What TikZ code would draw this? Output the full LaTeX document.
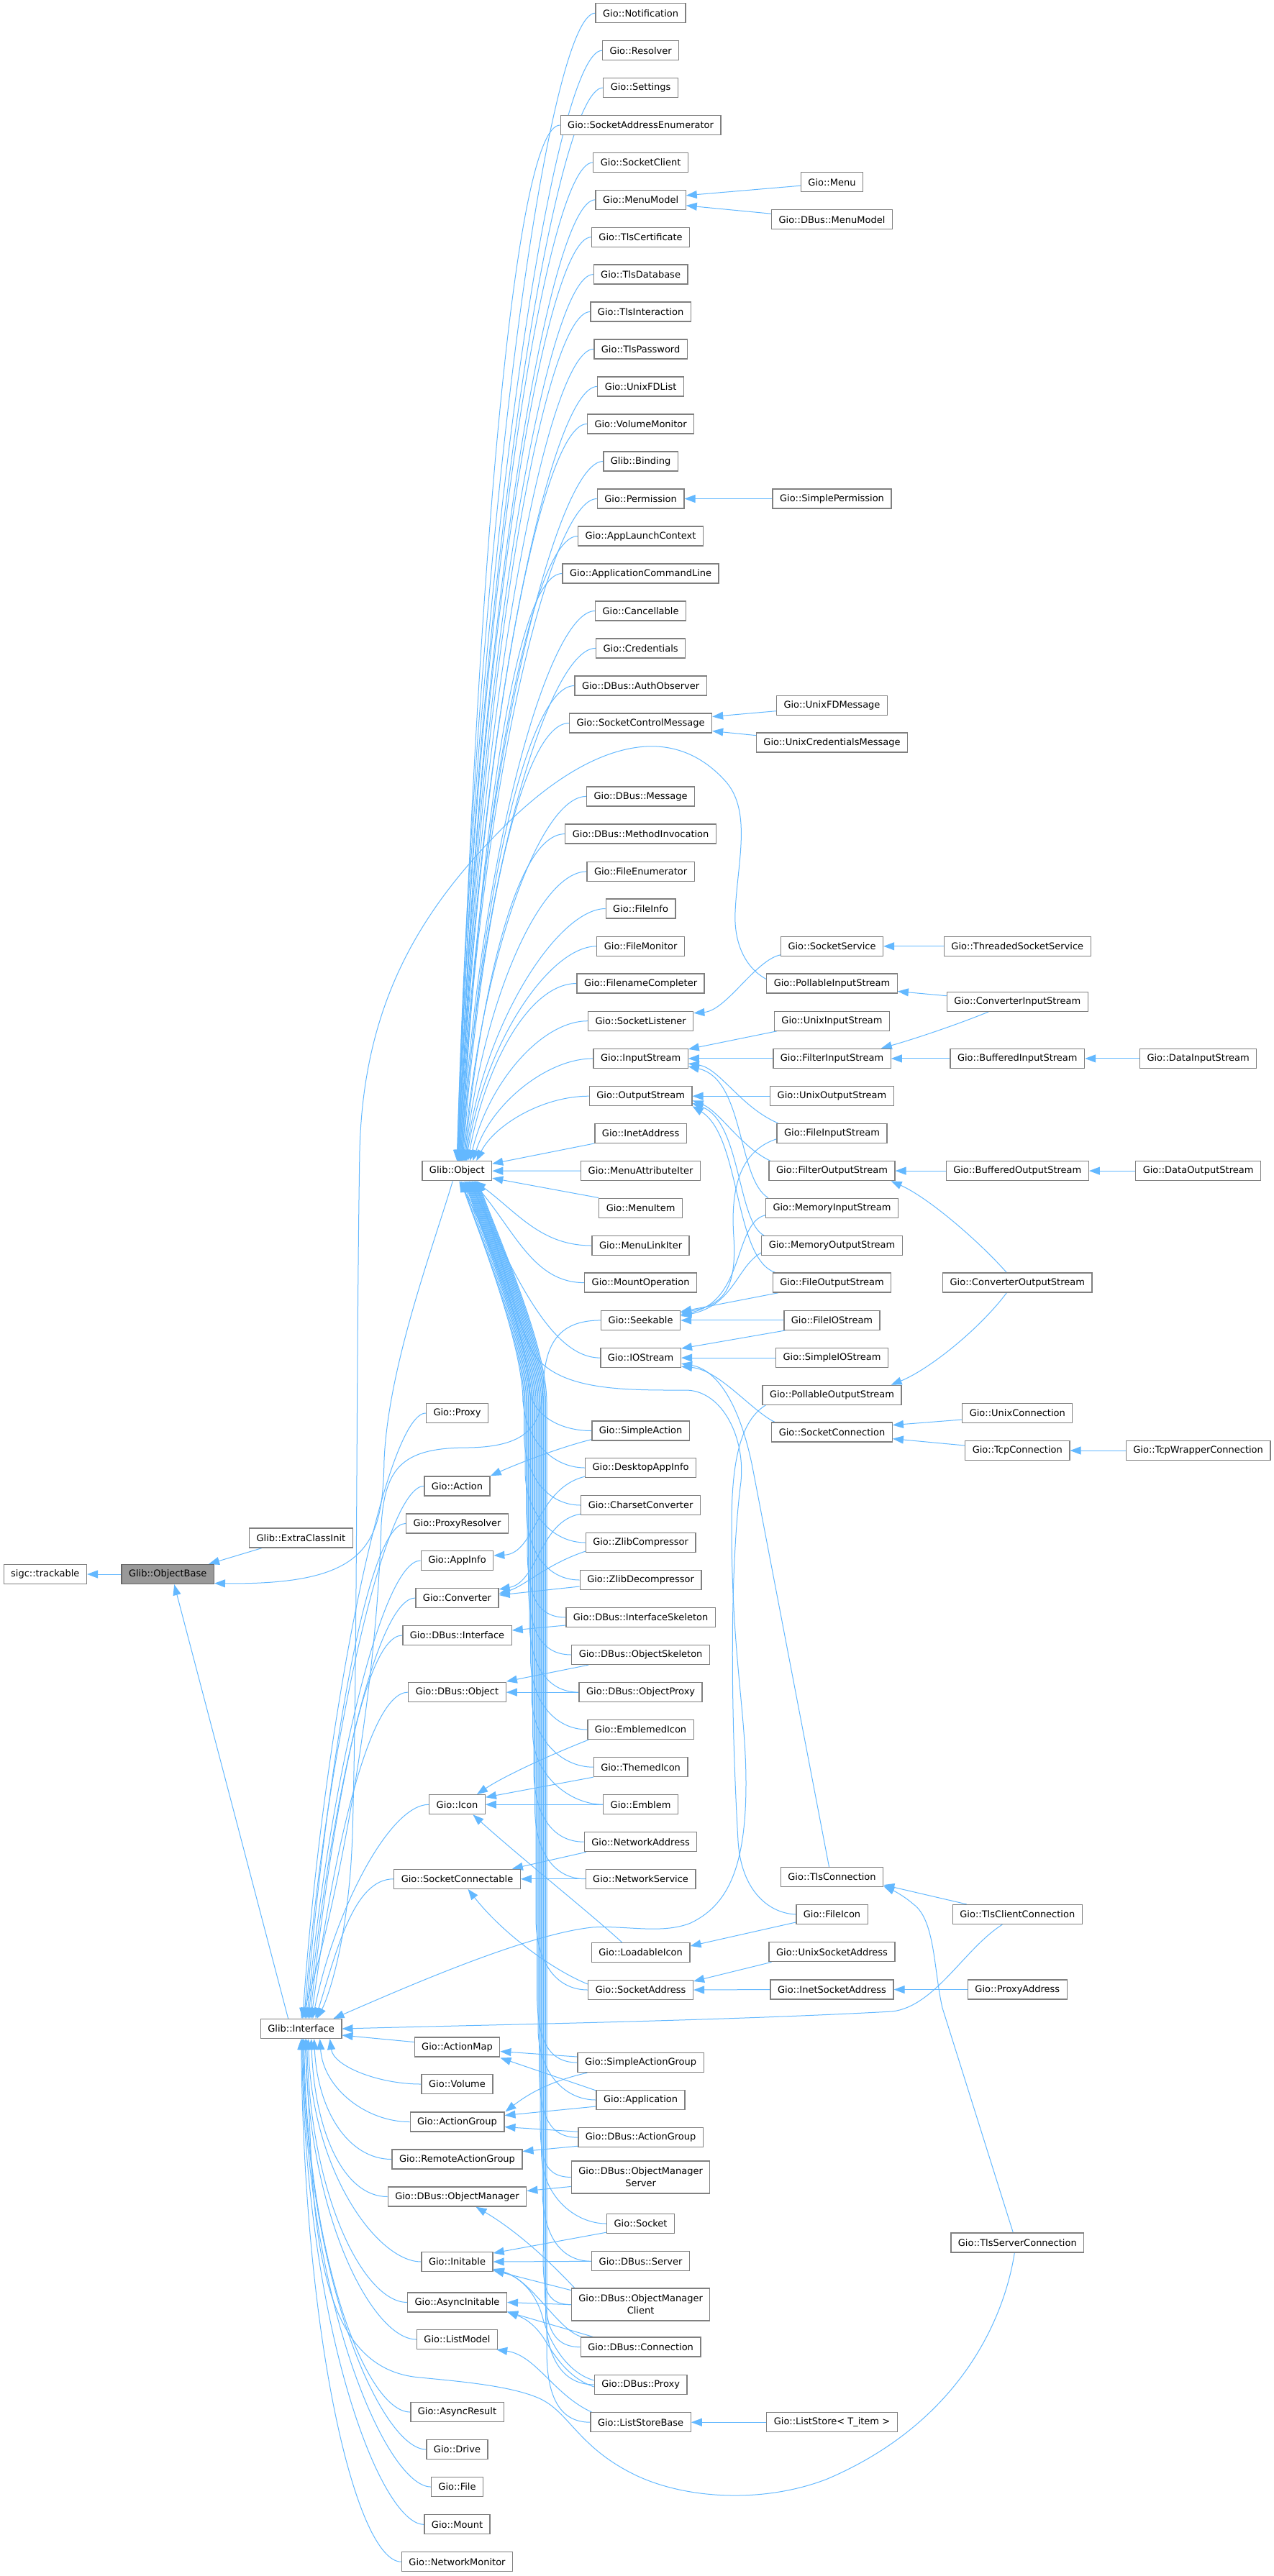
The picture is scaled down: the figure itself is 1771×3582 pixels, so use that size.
\documentclass[tikz,border=0pt]{standalone}
\usepackage{fontspec}
\setmainfont{DejaVu Sans}
\usetikzlibrary{arrows.meta,calc}
\definecolor{edgeblue}{RGB}{99,184,255}
\definecolor{boxline}{RGB}{128,128,128}
\definecolor{obfill}{RGB}{153,153,153}
\definecolor{obline}{RGB}{102,102,102}
\pgfdeclarelayer{bg}
\pgfsetlayers{bg,main}
\tikzset{
  cls/.style={draw=boxline,line width=1.3pt,fill=white,font=\fontsize{13}{17}\selectfont,inner xsep=10pt,inner ysep=0pt,minimum height=27pt,align=center},
  edg/.style={draw=edgeblue,line width=1pt,-{Triangle[length=15pt,width=11pt]}},
}
\newcommand\mknode[4]{\node[cls] (#1) at (#2,#3) {#4};}
\newcommand\eObjUp[2]{\draw[edg] let \p1=(#1.west), \p2=($(obj.north)+(#2,0)$) in (\p1) .. controls ({\x1-65pt},\y1) and ({\x2+25pt},{(\y1)*0.55+(\y2)*0.45}) .. (\p2);}
\newcommand\eObjNr[2]{\draw[edg] let \p1=(#1.west), \p2=(#2) in (\p1) .. controls ({\x1-70pt},\y1) and ({\x2+60pt},{(\y1)*0.5+(\y2)*0.5}) .. (\p2);}
\newcommand\eObjDn[3]{\draw[edg] let \p1=(#1.west), \p2=($(obj.south)+(#3,0)$) in (\p1) .. controls ({\x1-45pt},\y1) and (#2pt,{\y1+40pt}) .. (#2pt,{\y1+100pt}) -- (#2pt,-1950pt) .. controls (#2pt,-1870pt) and ({\x2+28pt},-1720pt) .. (\p2);}
\newcommand\eIfUp[2]{\draw[edg] let \p1=(#1), \p2=($(iface.north)+(#2,0)$) in (\p1) .. controls ({\x1-55pt},\y1) and ({\x2+30pt},{(\y1)*0.5+(\y2)*0.5}) .. (\p2);}
\newcommand\eIfDn[2]{\draw[edg] let \p1=(#1.west), \p2=($(iface.south)+(#2,0)$) in (\p1) .. controls ({\x1-60pt},\y1) and ({\x2+5pt},{(\y1)*0.6+(\y2)*0.4}) .. (\p2);}
\begin{document}
\begin{tikzpicture}[x=1pt,y=-1pt]
\useasboundingbox (0,0) rectangle (1771,3582);
% ---------- nodes ----------
\mknode{trk}{62.8}{2189}{sigc::trackable}
\node[cls,fill=obfill,draw=obline] (ob) at (233.2,2189) {Glib::ObjectBase};
\mknode{eci}{418.4}{2138.5}{Glib::ExtraClassInit}
\mknode{obj}{635.3}{1628.2}{Glib::Object}
\mknode{iface}{418.6}{2821}{Glib::Interface}
% main column
\mknode{notif}{890.6}{18.2}{Gio::Notification}
\mknode{resolver}{890.6}{70.2}{Gio::Resolver}
\mknode{settings}{890.6}{122}{Gio::Settings}
\mknode{sae}{890.6}{174}{Gio::SocketAddressEnumerator}
\mknode{sclient}{890.6}{225.9}{Gio::SocketClient}
\mknode{menumodel}{890.6}{277.8}{Gio::MenuModel}
\mknode{tlscert}{890.6}{329.7}{Gio::TlsCertificate}
\mknode{tlsdb}{890.6}{381.6}{Gio::TlsDatabase}
\mknode{tlsinter}{890.6}{433.5}{Gio::TlsInteraction}
\mknode{tlspass}{890.6}{485.4}{Gio::TlsPassword}
\mknode{unixfdlist}{890.6}{537.4}{Gio::UnixFDList}
\mknode{volmon}{890.6}{589.5}{Gio::VolumeMonitor}
\mknode{binding}{890.6}{641.5}{Glib::Binding}
\mknode{perm}{890.6}{693.5}{Gio::Permission}
\mknode{applaunch}{890.6}{745.5}{Gio::AppLaunchContext}
\mknode{appcmd}{890.6}{797.5}{Gio::ApplicationCommandLine}
\mknode{cancel}{890.6}{849.5}{Gio::Cancellable}
\mknode{cred}{890.6}{901.4}{Gio::Credentials}
\mknode{authobs}{890.6}{953.5}{Gio::DBus::AuthObserver}
\mknode{scm}{890.6}{1005.5}{Gio::SocketControlMessage}
\mknode{dbmsg}{890.6}{1107.4}{Gio::DBus::Message}
\mknode{dbmi}{890.6}{1159.6}{Gio::DBus::MethodInvocation}
\mknode{fenum}{890.6}{1211.9}{Gio::FileEnumerator}
\mknode{finfo}{890.6}{1263.5}{Gio::FileInfo}
\mknode{fmon}{890.6}{1315.8}{Gio::FileMonitor}
\mknode{fncomp}{890.6}{1367.5}{Gio::FilenameCompleter}
\mknode{slist}{890.6}{1419.7}{Gio::SocketListener}
\mknode{istream}{890.6}{1471.9}{Gio::InputStream}
\mknode{ostream}{890.6}{1524.2}{Gio::OutputStream}
\mknode{inet}{890.6}{1575.8}{Gio::InetAddress}
\mknode{mattr}{890.6}{1628.1}{Gio::MenuAttributeIter}
\mknode{mitem}{890.6}{1679.7}{Gio::MenuItem}
\mknode{mlink}{890.6}{1732}{Gio::MenuLinkIter}
\mknode{mountop}{890.6}{1783.6}{Gio::MountOperation}
\mknode{seek}{890.6}{1835.9}{Gio::Seekable}
\mknode{iostream}{890.6}{1888.1}{Gio::IOStream}
\mknode{sact}{890.6}{1989.5}{Gio::SimpleAction}
\mknode{dappinfo}{890.6}{2041}{Gio::DesktopAppInfo}
\mknode{charconv}{890.6}{2093}{Gio::CharsetConverter}
\mknode{zcomp}{890.6}{2145}{Gio::ZlibCompressor}
\mknode{zdecomp}{890.6}{2197}{Gio::ZlibDecompressor}
\mknode{ifskel}{890.6}{2249}{Gio::DBus::InterfaceSkeleton}
\mknode{objskel}{890.6}{2301}{Gio::DBus::ObjectSkeleton}
\mknode{objproxy}{890.6}{2353.1}{Gio::DBus::ObjectProxy}
\mknode{emblicon}{890.6}{2405}{Gio::EmblemedIcon}
\mknode{themicon}{890.6}{2457.2}{Gio::ThemedIcon}
\mknode{emblem}{890.6}{2509.2}{Gio::Emblem}
\mknode{netaddr}{890.6}{2561.2}{Gio::NetworkAddress}
\mknode{netserv}{890.6}{2612.7}{Gio::NetworkService}
\mknode{loadicon}{890.6}{2715}{Gio::LoadableIcon}
\mknode{sockaddr}{890.6}{2767}{Gio::SocketAddress}
\mknode{sag}{890.6}{2868}{Gio::SimpleActionGroup}
\mknode{app}{890.6}{2920}{Gio::Application}
\mknode{dbag}{890.6}{2972.2}{Gio::DBus::ActionGroup}
\node[cls,minimum height=45pt] (omserver) at (890.6,3027.4) {Gio::DBus::ObjectManager\\Server};
\mknode{socket}{890.6}{3092}{Gio::Socket}
\mknode{dbserver}{890.6}{3144.3}{Gio::DBus::Server}
\node[cls,minimum height=45pt] (omclient) at (890.6,3204.6) {Gio::DBus::ObjectManager\\Client};
\mknode{dbconn}{890.6}{3263.6}{Gio::DBus::Connection}
\mknode{dbproxy}{890.6}{3315.9}{Gio::DBus::Proxy}
\mknode{lsbase}{890.6}{3368.2}{Gio::ListStoreBase}
% right column
\mknode{menu}{1156.5}{253.2}{Gio::Menu}
\mknode{dbmenumodel}{1156.5}{305.2}{Gio::DBus::MenuModel}
\mknode{simpperm}{1156.5}{693.5}{Gio::SimplePermission}
\mknode{unixfdmsg}{1156.5}{980.7}{Gio::UnixFDMessage}
\mknode{unixcredmsg}{1156.5}{1032.6}{Gio::UnixCredentialsMessage}
\mknode{sockserv}{1156.5}{1315.8}{Gio::SocketService}
\mknode{pis}{1156.5}{1367.5}{Gio::PollableInputStream}
\mknode{unixis}{1156.5}{1419.7}{Gio::UnixInputStream}
\mknode{fis}{1156.5}{1471.9}{Gio::FilterInputStream}
\mknode{unixos}{1156.5}{1524.2}{Gio::UnixOutputStream}
\mknode{fileis}{1156.5}{1575.8}{Gio::FileInputStream}
\mknode{fos}{1156.5}{1628.1}{Gio::FilterOutputStream}
\mknode{memis}{1156.5}{1679.7}{Gio::MemoryInputStream}
\mknode{memos}{1156.5}{1732}{Gio::MemoryOutputStream}
\mknode{fileos}{1156.5}{1783.6}{Gio::FileOutputStream}
\mknode{fileios}{1156.5}{1835.9}{Gio::FileIOStream}
\mknode{simpleios}{1156.5}{1888.1}{Gio::SimpleIOStream}
\mknode{pos}{1156.5}{1939.8}{Gio::PollableOutputStream}
\mknode{sockconn}{1156.5}{1991.6}{Gio::SocketConnection}
\mknode{tlsconn}{1156.5}{2610}{Gio::TlsConnection}
\mknode{fileicon}{1156.5}{2662}{Gio::FileIcon}
\mknode{unixsa}{1156.5}{2714.2}{Gio::UnixSocketAddress}
\mknode{inetsa}{1156.5}{2766.5}{Gio::InetSocketAddress}
\mknode{liststore}{1156.5}{3368.2}{Gio::ListStore\textless{} T\_item \textgreater{}}
% column 4
\mknode{threadss}{1414.3}{1315.8}{Gio::ThreadedSocketService}
\mknode{convis}{1414.3}{1392.7}{Gio::ConverterInputStream}
\mknode{bufis}{1414.3}{1471.9}{Gio::BufferedInputStream}
\mknode{bufos}{1414.3}{1628.1}{Gio::BufferedOutputStream}
\mknode{convos}{1414.3}{1783.6}{Gio::ConverterOutputStream}
\mknode{unixconn}{1414.3}{1965}{Gio::UnixConnection}
\mknode{tcpconn}{1414.3}{2017}{Gio::TcpConnection}
\mknode{tlsclient}{1414.3}{2662}{Gio::TlsClientConnection}
\mknode{proxyaddr}{1414.3}{2766.5}{Gio::ProxyAddress}
\mknode{tlsserver}{1414.3}{3118.5}{Gio::TlsServerConnection}
% column 5
\mknode{datais}{1665.6}{1471.9}{Gio::DataInputStream}
\mknode{dataos}{1665.6}{1628.1}{Gio::DataOutputStream}
\mknode{tcpwrap}{1665.6}{2017}{Gio::TcpWrapperConnection}
% interface column
\mknode{proxy}{635.5}{1965}{Gio::Proxy}
\mknode{action}{635.5}{2066.4}{Gio::Action}
\mknode{proxyres}{635.5}{2118.4}{Gio::ProxyResolver}
\mknode{appinfo}{635.5}{2170}{Gio::AppInfo}
\mknode{converter}{635.5}{2222}{Gio::Converter}
\mknode{dbiface}{635.5}{2274}{Gio::DBus::Interface}
\mknode{dbobject}{635.5}{2353.1}{Gio::DBus::Object}
\mknode{icon}{635.5}{2509.2}{Gio::Icon}
\mknode{sconnectable}{635.5}{2612.7}{Gio::SocketConnectable}
\mknode{actionmap}{635.5}{2846.5}{Gio::ActionMap}
\mknode{volume}{635.5}{2898}{Gio::Volume}
\mknode{actiongroup}{635.5}{2950.5}{Gio::ActionGroup}
\mknode{remoteag}{635.5}{3002.5}{Gio::RemoteActionGroup}
\mknode{objmanager}{635.5}{3054.5}{Gio::DBus::ObjectManager}
\mknode{initable}{635.5}{3145}{Gio::Initable}
\mknode{asyncinit}{635.5}{3201.5}{Gio::AsyncInitable}
\mknode{listmodel}{635.5}{3253}{Gio::ListModel}
\mknode{asyncresult}{635.5}{3354}{Gio::AsyncResult}
\mknode{drive}{635.5}{3406}{Gio::Drive}
\mknode{file}{635.5}{3458}{Gio::File}
\mknode{mount}{635.5}{3510.3}{Gio::Mount}
\mknode{netmon}{635.5}{3562.2}{Gio::NetworkMonitor}
% ---------- edges ----------
\begin{pgfonlayer}{bg}
% base classes
\draw[edg] (ob.west) -- (trk.east);
\draw[edg] ($(eci.south west)+(18,0)$) -- ($(ob.north east)+(-8,0)$);
\draw[edg] ($(iface.north)+(-18,0)$) -- ($(ob.south)+(9,0)$);
\draw[edg] ($(obj.south)+(-6,0)$) .. controls (600,1740) and (540,1900) .. (534,2030) .. controls (532,2150) and (510,2204) .. ($(ob.south east)+(0,-1.5)$);
% Glib::Object upper children
\eObjUp{notif}{0}\eObjUp{resolver}{0}\eObjUp{settings}{1}\eObjUp{sae}{1}\eObjUp{sclient}{1}
\eObjUp{menumodel}{2}\eObjUp{tlscert}{2}\eObjUp{tlsdb}{2}\eObjUp{tlsinter}{3}\eObjUp{tlspass}{3}
\eObjUp{unixfdlist}{3}\eObjUp{volmon}{4}\eObjUp{binding}{4}\eObjUp{perm}{5}\eObjUp{applaunch}{5}
\eObjUp{appcmd}{6}\eObjUp{cancel}{6}\eObjUp{cred}{7}\eObjUp{authobs}{7}\eObjUp{scm}{8}
\eObjUp{dbmsg}{9}\eObjUp{dbmi}{10}\eObjUp{fenum}{11}\eObjUp{finfo}{12}\eObjUp{fmon}{13}
\eObjUp{fncomp}{15}\eObjUp{slist}{18}\eObjUp{istream}{22}\eObjUp{ostream}{27}
\draw[edg] (inet.south west) -- ($(obj.east)+(0,-10)$);
\draw[edg] (mattr.west) -- (obj.east);
\draw[edg] (mitem.north west) -- ($(obj.east)+(0,10)$);
\eObjNr{mlink}{$(obj.south)+(25,0)$}
\eObjNr{mountop}{$(obj.south)+(21,0)$}
\eObjNr{iostream}{$(obj.south)+(17,0)$}
\draw[edg] (sact.west) .. controls (775,1989.5) and (738,1965) .. (736,1930) .. controls (730,1850) and (680,1720) .. ($(obj.south)+(3,0)$);
\eObjDn{dappinfo}{727}{5}\eObjDn{charconv}{728.5}{6}\eObjDn{zcomp}{730}{8}\eObjDn{zdecomp}{731.5}{10}
\eObjDn{ifskel}{733}{11}\eObjDn{objskel}{734.5}{12}\eObjDn{objproxy}{736}{13}\eObjDn{emblicon}{737.5}{14}
\eObjDn{themicon}{739}{15}\eObjDn{emblem}{740.5}{16}\eObjDn{netaddr}{742}{17}\eObjDn{netserv}{743.5}{18}
\eObjDn{sockaddr}{745}{19}\eObjDn{sag}{746.5}{20}\eObjDn{app}{748}{21}\eObjDn{dbag}{749.5}{22}
\eObjDn{omserver}{751}{23}\eObjDn{socket}{752.5}{24}\eObjDn{dbserver}{754}{25}\eObjDn{omclient}{755.5}{26}
\eObjDn{dbconn}{757}{27}\eObjDn{dbproxy}{758.5}{28}\eObjDn{lsbase}{760}{29}
\draw[edg] (fileicon.west) .. controls (1065,2660) and (1030,2625) .. (1026,2560) .. controls (1018,2420) and (1012,2200) .. (1030,2060) .. controls (1036,2000) and (1005,1935) .. (955,1933) .. controls (870,1933) and (775,1935) .. (740,1880) .. controls (715,1830) and (690,1720) .. ($(obj.south)+(24,0)$);
% second level
\draw[edg] ($(menu.west)+(0,5)$) -- ($(menumodel.east)+(0,-6)$);
\draw[edg] ($(dbmenumodel.west)+(0,-8)$) -- ($(menumodel.east)+(0,8)$);
\draw[edg] (simpperm.west) -- (perm.east);
\draw[edg] ($(unixfdmsg.west)+(0,8)$) -- ($(scm.east)+(0,-9)$);
\draw[edg] ($(unixcredmsg.west)+(0,-10)$) -- ($(scm.east)+(0,11)$);
\draw[edg] ($(sockserv.west)+(0,12)$) .. controls (1050,1335) and (1010,1405) .. ($(slist.east)+(0,-11)$);
\draw[edg] (threadss.west) -- (sockserv.east);
\draw[edg] ($(convis.west)+(0,-8)$) -- ($(pis.east)+(0,11)$);
\draw[edg] ($(convis.south)+(-40,0)$) .. controls (1330,1425) and (1270,1445) .. ($(fis.north east)+(-14,0)$);
\draw[edg] (bufis.west) -- (fis.east);
\draw[edg] (datais.west) -- (bufis.east);
\draw[edg] ($(unixis.south west)+(4,0)$) -- ($(istream.east)+(0,-13)$);
\draw[edg] (fis.west) -- (istream.east);
\draw[edg] ($(fileis.north west)+(2,0)$) .. controls (1030,1540) and (1000,1485) .. ($(istream.east)+(0,7)$);
\draw[edg] ($(memis.north west)+(4,0)$) .. controls (1025,1640) and (1035,1500) .. ($(istream.east)+(0,11)$);
\draw[edg] (unixos.west) -- (ostream.east);
\draw[edg] ($(fos.north west)+(2,0)$) .. controls (1030,1595) and (1000,1545) .. ($(ostream.east)+(0,6)$);
\draw[edg] ($(memos.north west)+(4,0)$) .. controls (1025,1700) and (1030,1560) .. ($(ostream.east)+(0,10)$);
\draw[edg] ($(fileos.north west)+(4,0)$) .. controls (1020,1750) and (1030,1580) .. ($(ostream.east)+(0,14)$);
\draw[edg] (bufos.west) -- (fos.east);
\draw[edg] (dataos.west) -- (bufos.east);
\draw[edg] ($(convos.north)+(-15,0)$) .. controls (1360,1725) and (1290,1665) .. ($(fos.south east)+(-6,0)$);
\draw[edg] ($(convos.south)+(-15,0)$) .. controls (1360,1850) and (1290,1905) .. ($(pos.north east)+(-15,0)$);
% Seekable children
\draw[edg] ($(fileos.south west)+(8,0)$) -- ($(seek.east)+(0,-12)$);
\draw[edg] ($(fileis.west)+(0,8)$) .. controls (1030,1600) and (1015,1650) .. (1020,1720) .. controls (1025,1800) and (1000,1815) .. ($(seek.east)+(0,-10)$);
\draw[edg] ($(memis.west)+(0,10)$) .. controls (1020,1700) and (1035,1810) .. ($(seek.east)+(0,-8)$);
\draw[edg] ($(memos.west)+(0,10)$) .. controls (1025,1760) and (1020,1815) .. ($(seek.east)+(0,-6)$);
\draw[edg] (fileios.west) -- (seek.east);
% IOStream children
\draw[edg] ($(fileios.south west)+(2,0)$) -- ($(iostream.east)+(0,-13)$);
\draw[edg] (simpleios.west) -- (iostream.east);
\draw[edg] ($(sockconn.north west)+(5,0)$) .. controls (1045,1962) and (1000,1905) .. ($(iostream.east)+(0,12)$);
\draw[edg] ($(tlsconn.north)+(-4,0)$) -- (1046,2040) .. controls (1030,1960) and (1000,1905) .. ($(iostream.east)+(0,8)$);
\draw[edg] ($(unixconn.west)+(0,9)$) -- ($(sockconn.east)+(0,-10)$);
\draw[edg] ($(tcpconn.west)+(0,-7)$) -- ($(sockconn.east)+(0,9)$);
\draw[edg] (tcpwrap.west) -- (tcpconn.east);
\draw[edg] ($(tlsclient.north west)+(20,0)$) -- ($(tlsconn.east)+(0,11)$);
\draw[edg] ($(tlsserver.north)+(-6,0)$) -- (1310,2792) .. controls (1298,2740) and (1300,2670) .. (1270,2648) .. controls (1255,2635) and (1240,2628) .. ($(tlsconn.east)+(0,13)$);
% icons, addresses
\draw[edg] ($(fileicon.west)+(0,11)$) -- ($(loadicon.east)+(0,-9)$);
\draw[edg] ($(loadicon.north)+(-26,0)$) .. controls (820,2660) and (720,2580) .. ($(icon.south)+(22,0)$);
\draw[edg] ($(emblicon.south west)+(2,0)$) .. controls (765,2440) and (700,2470) .. ($(icon.north east)+(-12,0)$);
\draw[edg] ($(themicon.west)+(0,14)$) -- ($(icon.east)+(0,-10)$);
\draw[edg] (emblem.west) -- (icon.east);
\draw[edg] ($(netaddr.south west)+(3,0)$) -- ($(sconnectable.north east)+(-12,0)$);
\draw[edg] (netserv.west) -- (sconnectable.east);
\draw[edg] ($(sockaddr.west)+(0,-8)$) .. controls (770,2740) and (700,2690) .. ($(sconnectable.south)+(15,0)$);
\draw[edg] ($(unixsa.south west)+(4,0)$) -- ($(sockaddr.east)+(0,-12)$);
\draw[edg] (inetsa.west) -- (sockaddr.east);
\draw[edg] (proxyaddr.west) -- (inetsa.east);
% interface column from main column
\draw[edg] ($(sact.south west)+(0,-2)$) .. controls (780,2012) and (720,2035) .. (action.north east);
\draw[edg] ($(dappinfo.south west)+(0,-2)$) .. controls (745,2070) and (745,2160) .. ($(appinfo.east)+(0,-7)$);
\draw[edg] ($(charconv.south west)+(0,-2)$) .. controls (750,2115) and (748,2200) .. ($(converter.east)+(0,-12)$);
\draw[edg] ($(zcomp.south west)+(0,-2)$) .. controls (760,2175) and (730,2205) .. ($(converter.east)+(0,-6)$);
\draw[edg] ($(zdecomp.west)+(0,9)$) -- ($(converter.east)+(0,-4)$);
\draw[edg] ($(ifskel.west)+(0,11)$) -- ($(dbiface.east)+(0,-7)$);
\draw[edg] ($(objskel.south west)+(24,0)$) -- ($(dbobject.east)+(0,-15)$);
\draw[edg] (objproxy.west) -- (dbobject.east);
\draw[edg] ($(sag.west)+(0,-8)$) -- ($(actionmap.east)+(0,6)$);
\draw[edg] ($(app.north west)+(0,1)$) -- ($(actionmap.east)+(0,15)$);
\draw[edg] ($(sag.south west)+(14,0)$) .. controls (760,2895) and (730,2915) .. ($(actiongroup.north east)+(1,0)$);
\draw[edg] ($(app.west)+(0,9)$) -- ($(actiongroup.east)+(0,-9)$);
\draw[edg] ($(dbag.west)+(0,-8)$) -- ($(actiongroup.east)+(0,7)$);
\draw[edg] ($(dbag.west)+(0,12)$) -- ($(remoteag.east)+(0,-11)$);
\draw[edg] ($(omserver.west)+(0,13)$) -- ($(objmanager.east)+(0,-8)$);
\draw[edg] ($(omclient.north west)+(5,0)$) .. controls (760,3140) and (715,3100) .. ($(objmanager.south)+(26,0)$);
\draw[edg] ($(socket.south west)+(0,-2)$) -- ($(initable.east)+(0,-12)$);
\draw[edg] (dbserver.west) -- (initable.east);
\draw[edg] ($(omclient.west)+(0,-20)$) -- ($(initable.east)+(0,12)$);
\draw[edg] ($(dbconn.north west)+(2,0)$) .. controls (775,3240) and (740,3170) .. ($(initable.east)+(0,10)$);
\draw[edg] ($(dbproxy.west)+(0,-6)$) .. controls (790,3300) and (765,3260) .. (755,3225) .. controls (745,3185) and (720,3165) .. ($(initable.east)+(0,11)$);
\draw[edg] (omclient.west) -- (asyncinit.east);
\draw[edg] ($(dbconn.north west)+(18,0)$) -- ($(asyncinit.east)+(0,13)$);
\draw[edg] ($(dbproxy.west)+(0,3)$) .. controls (785,3305) and (765,3265) .. (755,3250) .. controls (740,3228) and (725,3222) .. ($(asyncinit.south east)+(0,-1)$);
\draw[edg] ($(lsbase.north west)+(2,0)$) .. controls (770,3330) and (745,3275) .. ($(listmodel.south east)+(-2,0)$);
\draw[edg] (liststore.west) -- (lsbase.east);
% Glib::Interface upper children
\eIfUp{proxy.west}{2}\eIfUp{action.west}{4}\eIfUp{proxyres.west}{6}\eIfUp{appinfo.west}{8}
\eIfUp{converter.west}{10}\eIfUp{dbiface.west}{12}\eIfUp{dbobject.west}{14}\eIfUp{icon.west}{16}
\eIfUp{sconnectable.west}{20}
\draw[edg] (seek.west) .. controls (775,1836) and (757,1870) .. (755,1930) .. controls (753,1985) and (730,2012) .. (650,2013) .. controls (560,2013) and (535,2040) .. (530,2120) .. controls (522,2400) and (455,2700) .. (iface.north);
\draw[edg] ($(pis.west)+(0,-6)$) .. controls (1035,1345) and (1020,1310) .. (1022,1268) .. controls (1025,1200) and (1045,1130) .. (1010,1088) .. controls (975,1048) and (935,1036) .. (898,1038) .. controls (830,1042) and (760,1090) .. (700,1150) .. controls (580,1270) and (505,1400) .. (500,1600) .. controls (495,1900) and (497,2300) .. (490,2550) .. controls (485,2700) and (455,2780) .. ($(iface.north)+(22,0)$);
\draw[edg] ($(pos.south west)+(5,0)$) .. controls (1030,1975) and (1017,2030) .. (1017,2120) .. controls (1017,2300) and (1037,2380) .. (1037,2480) .. controls (1037,2600) and (1010,2650) .. (960,2674) .. controls (920,2690) and (870,2677) .. (823,2680) .. controls (730,2690) and (560,2765) .. ($(iface.north east)+(-12,0)$);
\draw[edg] ($(tlsclient.south)+(-21,0)$) .. controls (1340,2710) and (1300,2790) .. (1240,2797) .. controls (1000,2810) and (700,2815) .. (iface.east);
% Glib::Interface lower children
\draw[edg] ($(actionmap.west)+(0,-7)$) -- ($(iface.east)+(0,9)$);
\eIfDn{volume}{40}\eIfDn{actiongroup}{26}\eIfDn{remoteag}{18}\eIfDn{objmanager}{14}
\eIfDn{initable}{10}\eIfDn{asyncinit}{8}\eIfDn{listmodel}{6}\eIfDn{asyncresult}{4}
\eIfDn{drive}{3}\eIfDn{file}{2}\eIfDn{mount}{1}\eIfDn{netmon}{0}
\draw[edg] ($(tlsserver.south)+(-4,0)$) .. controls (1395,3230) and (1330,3370) .. (1150,3447) .. controls (1060,3482) and (950,3475) .. (880,3440) .. controls (800,3400) and (790,3350) .. (745,3333) .. controls (700,3315) and (620,3310) .. (575,3305) .. controls (470,3290) and (440,3170) .. (432,2990) .. controls (428,2900) and (425,2860) .. ($(iface.south)+(6,0)$);
\end{pgfonlayer}
\end{tikzpicture}
\end{document}
